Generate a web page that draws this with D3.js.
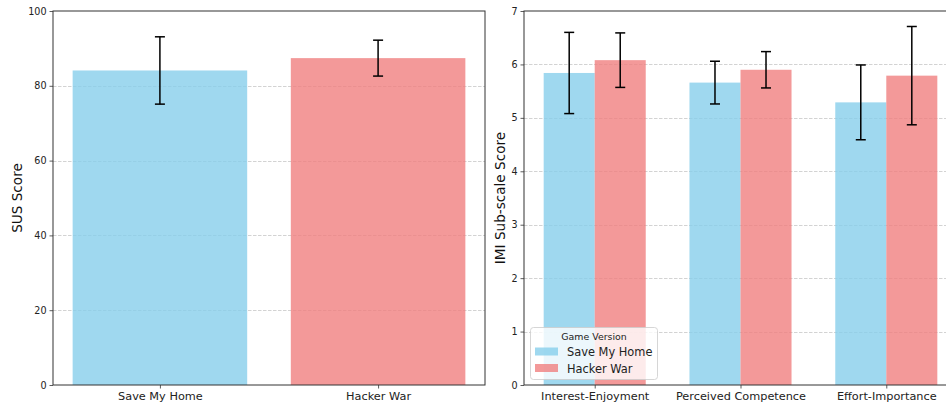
<!DOCTYPE html>
<html>
<head>
<meta charset="utf-8">
<script src="https://cdn.jsdelivr.net/npm/d3@7"></script>
<style>
  body { margin: 0; background: #fff; }
  svg { display: block; font-family: "DejaVu Sans", sans-serif; }
</style>
</head>
<body>
<svg id="chart" width="946" height="405"></svg>
<script>
// ---- Data ----
const versions = ["Save My Home", "Hacker War"];
const susMeans = [84.1, 87.4];
const susSD = [9.0, 4.8];
const susTicks = [0, 20, 40, 60, 80, 100];

const imiScales = ["Interest-Enjoyment", "Perceived Competence", "Effort-Importance"];
const imiSaveMyHome = [5.84, 5.66, 5.29];
const imiSaveMyHomeSD = [0.76, 0.40, 0.70];
const imiHackerWar = [6.08, 5.90, 5.79];
const imiHackerWarSD = [0.51, 0.34, 0.92];
const imiTicks = [0, 1, 2, 3, 4, 5, 6, 7];

const colors = ["#87CEEB", "#F08080"];

const svg = d3.select("#chart");
const spineColor = "#333";

function drawFrame(g, x0, x1, y, ticks, yLabel, labelX) {
  g.append("g").selectAll("line").data(ticks.filter(t => t !== y.domain()[0] && t !== y.domain()[1]))
    .join("line")
    .attr("x1", x0).attr("x2", x1)
    .attr("y1", d => Math.round(y(d)) + 0.5).attr("y2", d => Math.round(y(d)) + 0.5)
    .attr("stroke", "#b0b0b0").attr("stroke-opacity", 0.7)
    .attr("stroke-dasharray", "3.5,1.5").attr("stroke-width", 0.8);
  const ax = g.append("g").attr("transform", `translate(${x0},0)`)
    .call(d3.axisLeft(y).tickValues(ticks).tickSize(3.5).tickPadding(3).tickFormat(d3.format("d")));
  ax.select(".domain").remove();
  ax.selectAll("line").attr("stroke", spineColor).attr("stroke-width", 0.8);
  ax.selectAll("text").attr("font-size", 9.6).attr("fill", "#222").attr("font-family", "DejaVu Sans");
  g.append("text")
    .attr("transform", `translate(${labelX},${(y.range()[0] + y.range()[1]) / 2}) rotate(-90)`)
    .attr("text-anchor", "middle").attr("font-size", 13.6).attr("fill", "#111")
    .text(yLabel);
}

function drawSpines(g, x0, x1, y0, y1) {
  g.append("rect").attr("x", x0).attr("y", y1).attr("width", x1 - x0).attr("height", y0 - y1)
    .attr("fill", "none").attr("stroke", spineColor).attr("stroke-width", 1);
}

function errBar(g, cx, yTop, yBot, capW) {
  g.append("line").attr("x1", cx).attr("x2", cx).attr("y1", yTop).attr("y2", yBot)
    .attr("stroke", "#000").attr("stroke-width", 1.5);
  [yTop, yBot].forEach(yy => {
    g.append("line").attr("x1", cx - capW / 2).attr("x2", cx + capW / 2).attr("y1", yy).attr("y2", yy)
      .attr("stroke", "#000").attr("stroke-width", 1.5);
  });
}

// ---- Left: SUS ----
{
  const g = svg.append("g");
  const L = 53, R = 485, T = 11, B = 385;
  const x = d3.scaleLinear().domain([-0.49, 1.49]).range([L, R]);
  const y = d3.scaleLinear().domain([0, 100]).range([B, T]);
  drawFrame(g, L, R, y, susTicks, "SUS Score", 22);
  const bw = 0.8;
  versions.forEach((v, i) => {
    g.append("rect")
      .attr("x", x(i - bw / 2)).attr("width", x(i + bw / 2) - x(i - bw / 2))
      .attr("y", y(susMeans[i])).attr("height", y(0) - y(susMeans[i]))
      .attr("fill", colors[i]).attr("fill-opacity", 0.8);
    errBar(g, x(i), y(susMeans[i] + susSD[i]), y(susMeans[i] - susSD[i]), 10);
  });
  const xa = g.append("g").attr("transform", `translate(0,${B})`)
    .call(d3.axisBottom(x).tickValues([0, 1]).tickSize(3.5).tickPadding(3).tickFormat(i => versions[i]));
  xa.select(".domain").remove();
  xa.selectAll("line").attr("stroke", spineColor).attr("stroke-width", 0.8);
  xa.selectAll("text").attr("font-size", 11.3).attr("fill", "#222").attr("font-family", "DejaVu Sans");
  drawSpines(g, L, R, B, T);
}

// ---- Right: IMI ----
{
  const g = svg.append("g");
  const L = 524, R = 957, T = 11, B = 385;
  const x = d3.scaleLinear().domain([-0.485, 2.485]).range([L, R]);
  const y = d3.scaleLinear().domain([0, 7]).range([B, T]);
  drawFrame(g, L, R, y, imiTicks, "IMI Sub-scale Score", 505);
  const bw = 0.35;
  const series = [
    { name: versions[0], vals: imiSaveMyHome, sd: imiSaveMyHomeSD, off: -bw / 2, color: colors[0] },
    { name: versions[1], vals: imiHackerWar, sd: imiHackerWarSD, off: bw / 2, color: colors[1] }
  ];
  series.forEach(s => {
    imiScales.forEach((c, i) => {
      const cx = i + s.off;
      g.append("rect")
        .attr("x", x(cx - bw / 2)).attr("width", x(cx + bw / 2) - x(cx - bw / 2))
        .attr("y", y(s.vals[i])).attr("height", y(0) - y(s.vals[i]))
        .attr("fill", s.color).attr("fill-opacity", 0.8);
    });
  });
  series.forEach(s => {
    imiScales.forEach((c, i) => {
      const cx = i + s.off;
      errBar(g, x(cx), y(s.vals[i] + s.sd[i]), y(s.vals[i] - s.sd[i]), 10);
    });
  });
  const xa = g.append("g").attr("transform", `translate(0,${B})`)
    .call(d3.axisBottom(x).tickValues([0, 1, 2]).tickSize(3.5).tickPadding(3).tickFormat(i => imiScales[i]));
  xa.select(".domain").remove();
  xa.selectAll("line").attr("stroke", spineColor).attr("stroke-width", 0.8);
  xa.selectAll("text").attr("font-size", 11.3).attr("fill", "#222").attr("font-family", "DejaVu Sans");
  drawSpines(g, L, R, B, T);

  // legend
  const lg = g.append("g").attr("transform", "translate(530,327)");
  lg.append("rect").attr("x", 0.5).attr("y", 0.5).attr("width", 127).attr("height", 52).attr("rx", 3)
    .attr("fill", "#fff").attr("fill-opacity", 0.8).attr("stroke", "#ccc").attr("stroke-width", 0.8);
  lg.append("text").attr("x", 64).attr("y", 12.5).attr("text-anchor", "middle")
    .attr("font-size", 9.4).attr("fill", "#222").text("Game Version");
  series.forEach((s, k) => {
    lg.append("rect").attr("x", 5).attr("y", 20.5 + k * 16.5).attr("width", 23).attr("height", 8)
      .attr("fill", s.color).attr("fill-opacity", 0.8);
    lg.append("text").attr("x", 37).attr("y", 29 + k * 16.5)
      .attr("font-size", 11.4).attr("fill", "#222").text(s.name);
  });
}
</script>
</body>
</html>
